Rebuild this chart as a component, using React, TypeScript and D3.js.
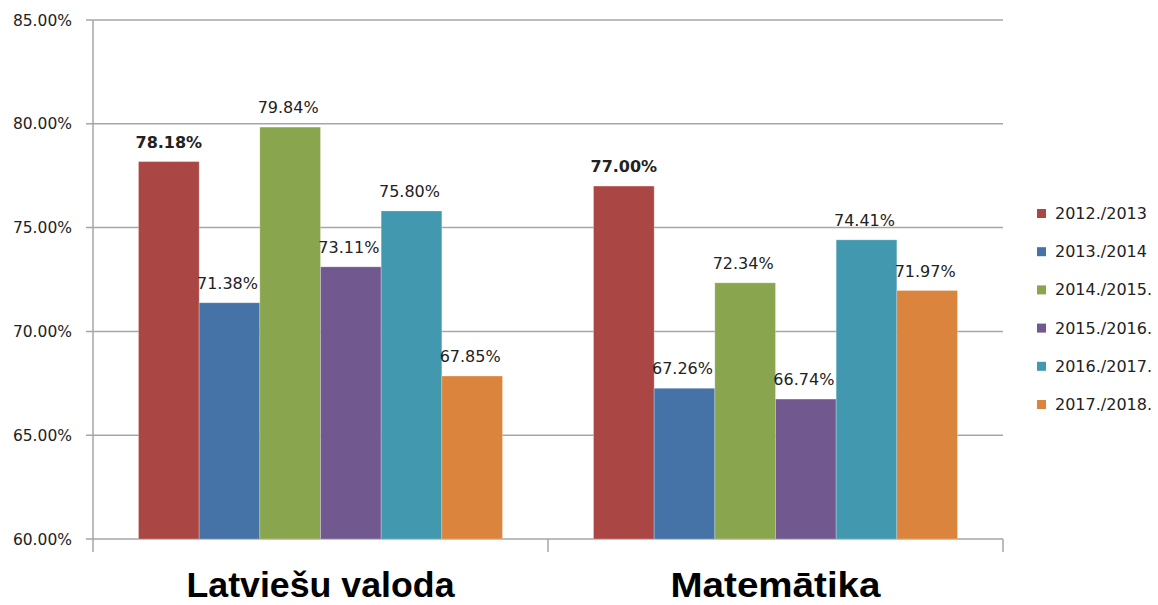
import * as d3 from "d3";

const categories = ["Latviešu valoda", "Matemātika"];
const seriesNames = [
  "2012./2013",
  "2013./2014",
  "2014./2015.",
  "2015./2016.",
  "2016./2017.",
  "2017./2018.",
];
const seriesValues = [
  [78.18, 77.0],
  [71.38, 67.26],
  [79.84, 72.34],
  [73.11, 66.74],
  [75.8, 74.41],
  [67.85, 71.97],
];
const yTicks = [60, 65, 70, 75, 80, 85];
const colors = ["#AA4643", "#4572A7", "#89A54E", "#71588F", "#4198AF", "#DB843D"];

const W = 1158;
const H = 605;
const margin = { top: 20, right: 155, bottom: 66, left: 93 };
const font = "'DejaVu Sans', Verdana, sans-serif";

export default function App() {
  const x0 = d3
    .scaleBand<string>()
    .domain(categories)
    .range([margin.left, W - margin.right])
    .paddingInner(0)
    .paddingOuter(0);
  const x1 = d3
    .scaleBand<string>()
    .domain(seriesNames)
    .range([x0.bandwidth() * 0.1, x0.bandwidth() * 0.9]);
  const y = d3
    .scaleLinear()
    .domain([60, 85])
    .range([H - margin.bottom, margin.top]);

  const grid = "#A6A6A6";
  const bottom = y(60);

  return (
    <div style={{ position: "absolute", left: 0, top: 0 }}>
      <svg width={W} height={H} style={{ display: "block", background: "#fff" }}>
        {/* gridlines + y ticks */}
        {yTicks.map((t) => (
          <g key={t}>
            <line
              x1={margin.left - 7}
              x2={W - margin.right}
              y1={y(t)}
              y2={y(t)}
              stroke={grid}
              strokeWidth={1.5}
            />
            <text
              x={72}
              y={y(t) + 5.5}
              textAnchor="end"
              fontFamily={font}
              fontSize={15.5}
              fill="#222"
            >
              {t.toFixed(2)}%
            </text>
          </g>
        ))}
        {/* y axis line */}
        <line
          x1={margin.left}
          x2={margin.left}
          y1={margin.top}
          y2={bottom + 13}
          stroke={grid}
          strokeWidth={1.5}
        />
        {/* category ticks */}
        {categories.map((c) => (
          <line
            key={c}
            x1={(x0(c) as number) + x0.bandwidth()}
            x2={(x0(c) as number) + x0.bandwidth()}
            y1={bottom}
            y2={bottom + 13}
            stroke={grid}
            strokeWidth={1.5}
          />
        ))}
        {/* bars */}
        {categories.map((c, ci) => (
          <g key={c} transform={`translate(${x0(c)},0)`}>
            {seriesNames.map((s, si) => {
              const v = seriesValues[si][ci];
              const top = y(v);
              const bx = x1(s) as number;
              const bold = si === 0;
              return (
                <g key={s}>
                  <rect
                    x={bx}
                    y={top}
                    width={x1.bandwidth()}
                    height={bottom - top}
                    fill={colors[si]}
                    stroke="#ffffff"
                    strokeOpacity={0.25}
                    strokeWidth={1}
                  />
                  <text
                    x={bx + x1.bandwidth() / 2 - (bold ? 0 : 2)}
                    y={top - 14}
                    textAnchor="middle"
                    fontFamily={font}
                    fontSize={16}
                    fontWeight={bold ? "bold" : "normal"}
                    fill="#222"
                  >
                    {v.toFixed(2)}%
                  </text>
                </g>
              );
            })}
            <text
              x={x0.bandwidth() / 2}
              y={597}
              textAnchor="middle"
              fontFamily="'Liberation Sans', Arial, sans-serif"
              fontWeight="bold"
              fontSize={35}
              textLength={ci === 0 ? 268 : 210}
              lengthAdjust="spacingAndGlyphs"
              fill="#000"
            >
              {c}
            </text>
          </g>
        ))}
        {/* legend */}
        {seriesNames.map((s, i) => (
          <g key={s} transform={`translate(1037, ${219 + i * 38.2})`}>
            <rect x={0} y={-10} width={9} height={9} fill={colors[i]} />
            <text x={18} y={0} fontFamily={font} fontSize={16} fill="#222">
              {s}
            </text>
          </g>
        ))}
      </svg>
    </div>
  );
}
